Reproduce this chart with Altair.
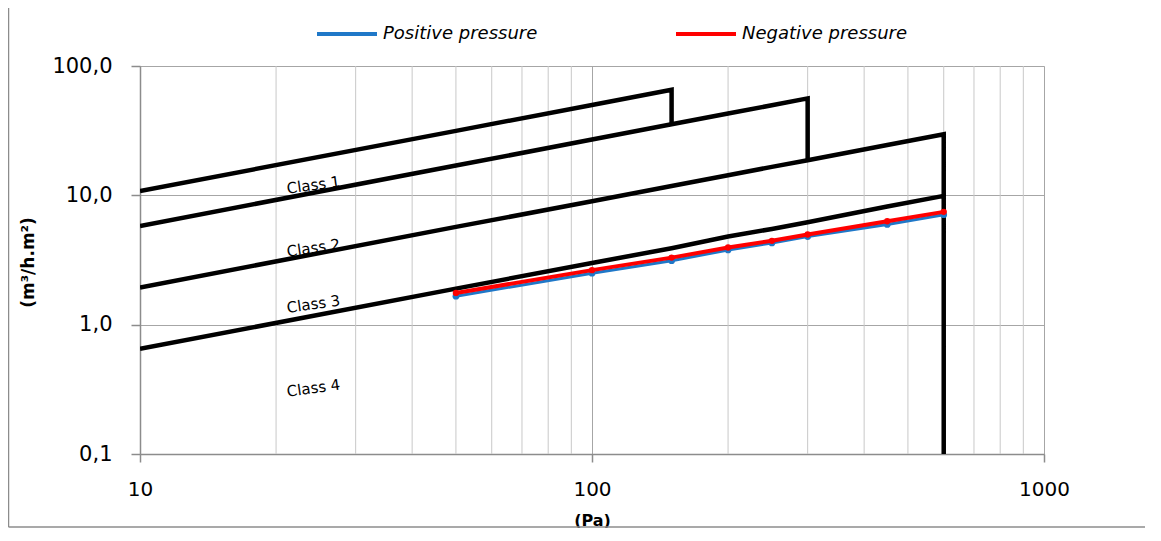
import altair as alt
import pandas as pd

# ---- class limit lines (EN 12207 style) ----
c1_x = [10, 50, 100, 150, 150]
c1_y = [10.8, 31.5, 50.0, 65.5, 35.4]
c2_x = [10, 50, 100, 150, 200, 250, 300, 300]
c2_y = [5.8, 17.0, 27.0, 35.4, 42.9, 49.7, 56.2, 18.7]
c3_x = [10, 50, 100, 150, 200, 250, 300, 450, 600, 600]
c3_y = [1.94, 5.7, 9.0, 11.8, 14.3, 16.6, 18.7, 24.5, 29.7, 9.9]
c4_x = [10, 50, 100, 150, 200, 250, 300, 450, 600, 600]
c4_y = [0.65, 1.9, 3.0, 3.9, 4.8, 5.5, 6.2, 8.2, 9.9, 0.1]

# ---- measured series ----
meas_x = [50, 100, 150, 200, 250, 300, 450, 600]
positive_y = [1.66, 2.50, 3.12, 3.78, 4.28, 4.80, 5.95, 7.08]
negative_y = [1.76, 2.64, 3.30, 3.95, 4.45, 4.98, 6.30, 7.45]

# ---- class labels ----
label_text = ["Class 1", "Class 2", "Class 3", "Class 4"]
label_x = [24.2, 24.2, 24.2, 24.2]
label_y = [12.0, 3.91, 1.44, 0.323]

# ---- grid / ticks ----
minor_x = [20, 30, 40, 50, 60, 70, 80, 90, 200, 300, 400, 500, 600, 700, 800, 900]
major_x = [10, 100, 1000]
major_y = [0.1, 1, 10, 100]

rows = []
for name, xs, ys in [("c1", c1_x, c1_y), ("c2", c2_x, c2_y),
                     ("c3", c3_x, c3_y), ("c4", c4_x, c4_y)]:
    for i, (a, b) in enumerate(zip(xs, ys)):
        rows.append({"series": name, "i": i, "x": a, "y": b})
classes = pd.DataFrame(rows)

pos = pd.DataFrame({"x": meas_x, "y": positive_y, "series": "Positive pressure"})
neg = pd.DataFrame({"x": meas_x, "y": negative_y, "series": "Negative pressure"})
labels = pd.DataFrame({"x": label_x, "y": label_y, "t": label_text})
minor = pd.DataFrame({"x": minor_x})

xscale = alt.Scale(type="log", domain=[10, 1000], nice=False)
yscale = alt.Scale(type="log", domain=[0.1, 100], nice=False)

x_enc = alt.X("x:Q", scale=xscale, axis=alt.Axis(
    values=major_x, labelExpr="format(datum.value, 'd')", title="(Pa)",
    grid=True, gridColor="#a6a6a6", gridWidth=1,
    domainColor="#8c8c8c", domainWidth=1.5, tickColor="#8c8c8c", tickSize=8, tickWidth=1.5,
    labelFont="DejaVu Sans", labelFontSize=20, labelColor="black", labelPadding=17,
    labelFlush=False,
    titleFont="DejaVu Sans", titleFontSize=16, titleFontWeight="bold", titleColor="black",
    titleX=452, titleY=66, titleBaseline="middle"))
y_enc = alt.Y("y:Q", scale=yscale, axis=alt.Axis(
    values=major_y, labelExpr="replace(format(datum.value, '.1f'), '.', ',')",
    title="(m³/h.m²)",
    grid=True, gridColor="#a6a6a6", gridWidth=1,
    domainColor="#8c8c8c", domainWidth=1.5, tickColor="#8c8c8c", tickSize=9, tickWidth=1.5,
    labelFont="DejaVu Sans", labelFontSize=21, labelColor="black", labelPadding=19,
    labelFlush=False,
    titleFont="DejaVu Sans", titleFontSize=17, titleFontWeight="bold", titleColor="black",
    titleX=-112, titleY=196, titleAngle=270, titleBaseline="middle", titleAlign="center"))

color_enc = alt.Color("series:N",
    scale=alt.Scale(domain=["Positive pressure", "Negative pressure"],
                    range=["#1f78c8", "#ff0000"]),
    legend=alt.Legend(title=None, orient="none", legendX=175, legendY=-64,
                      direction="horizontal", symbolType="stroke", symbolSize=3600,
                      symbolStrokeWidth=4, labelFont="DejaVu Sans", labelFontStyle="italic",
                      labelFontSize=18, labelColor="black", labelOffset=4,
                      columnPadding=130, padding=0, labelLimit=300))

frame = pd.DataFrame({"a": [0]})
border_left = alt.Chart(frame).mark_rule(color="#8c8c8c", strokeWidth=1.5).encode(
    x=alt.value(-131.5), y=alt.value(-90), y2=alt.value(461))
border_bottom = alt.Chart(frame).mark_rule(color="#8c8c8c", strokeWidth=1.5).encode(
    x=alt.value(-131.5), x2=alt.value(1005), y=alt.value(461))

grid_minor = alt.Chart(minor).mark_rule(color="#c8c8c8", strokeWidth=1).encode(x=x_enc)

class_lines = alt.Chart(classes).mark_line(color="black", strokeWidth=4.5,
                                           strokeJoin="miter", clip=True).encode(
    x=x_enc, y=y_enc, detail="series:N", order="i:Q")

pos_line = alt.Chart(pos).mark_line(strokeWidth=3,
    point=alt.OverlayMarkDef(size=45, filled=True)).encode(
    x=x_enc, y=y_enc, color=color_enc)
neg_line = alt.Chart(neg).mark_line(strokeWidth=4,
    point=alt.OverlayMarkDef(size=40, filled=True)).encode(
    x=x_enc, y=y_enc, color=color_enc)

texts = alt.Chart(labels).mark_text(angle=352, font="DejaVu Sans", fontSize=15,
                                    color="black", align="center", baseline="middle").encode(
    x=x_enc, y=y_enc, text="t:N")

chart = alt.layer(border_left, border_bottom, grid_minor, class_lines, pos_line, neg_line,
                  texts).properties(
    width=904, height=388,
    padding={"left": 132, "top": 58, "right": 105, "bottom": 74},
    autosize=alt.AutoSizeParams(type="none"),
).configure_view(strokeWidth=0).configure(background="white")

chart.save("out.html", embed_options={"renderer": "svg", "actions": False})
